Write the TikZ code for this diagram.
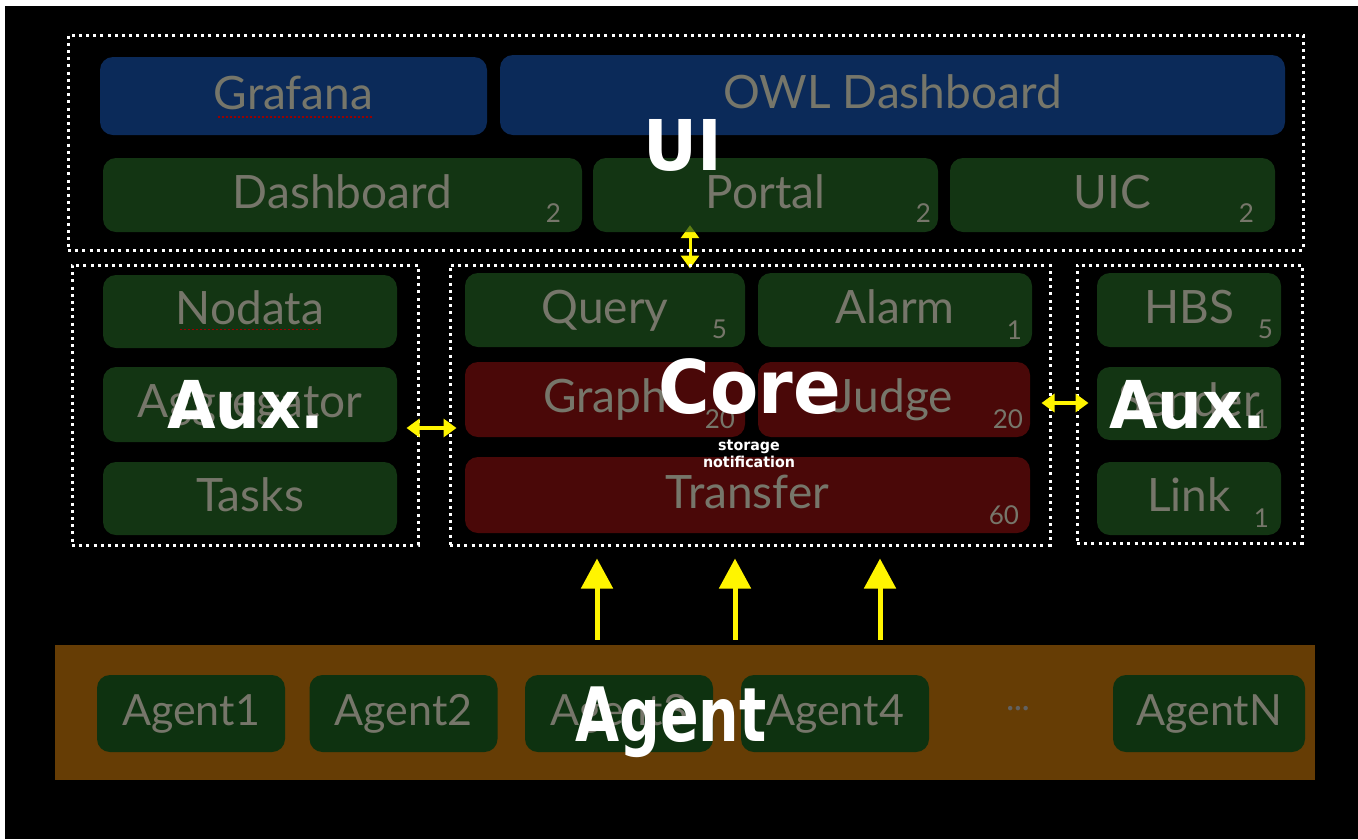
\documentclass[tikz,border=0pt]{standalone}
\usepackage{fontspec}
\setmainfont{Lato}
\newfontfamily\headfont{DejaVu Sans}[FakeStretch=0.95]
\newfontfamily\headcond{DejaVu Sans}[FakeStretch=0.76]
\usetikzlibrary{positioning}
\usetikzlibrary{calc}
\usetikzlibrary{arrows.meta}

\definecolor{boxgreen}{RGB}{28,76,28}
\definecolor{boxblue}{RGB}{17,60,128}
\definecolor{boxred}{RGB}{106,12,12}
\definecolor{agentgreen}{RGB}{14,50,16}
\definecolor{agentband}{RGB}{102,61,5}
\definecolor{lblgray}{RGB}{118,118,106}
\definecolor{flowyellow}{RGB}{255,245,0}

\pgfdeclarelayer{back}
\pgfdeclarelayer{under}
\pgfsetlayers{back,under,main}

\tikzset{
  box/.style={rounded corners=13pt, inner sep=0pt, fill opacity=0.7, text opacity=1,
    text=lblgray, text height=33pt, text depth=7pt, font=\fontsize{46}{46}\selectfont},
  greenbox/.style={box, fill=boxgreen},
  bluebox/.style={box, fill=boxblue},
  redbox/.style={box, fill=boxred},
  agentbox/.style={box, fill=agentgreen, fill opacity=1, minimum width=188pt, minimum height=77pt,
    text height=31pt, font=\fontsize{43}{43}\selectfont},
  countlbl/.style={text=lblgray, inner sep=0pt, font=\fontsize{26}{26}\selectfont},
  dotframe/.style={draw=white, line width=3pt, dash pattern=on 3pt off 4.2pt, inner sep=0pt},
  biglbl/.style={text=white, inner sep=0pt, font=\headfont\bfseries\fontsize{70}{70}\selectfont},
  flow/.style={draw=flowyellow, line width=5pt, -{Triangle[width=31pt,length=30pt]}},
  biarrow/.style={draw=flowyellow, line width=4pt,
    {Triangle[width=18pt,length=13pt]}-{Triangle[width=18pt,length=13pt]}},
}

\begin{document}
\begin{tikzpicture}[x=1pt, y=-1pt]

\useasboundingbox (0,0) rectangle (1358,839);
\begin{pgfonlayer}{back}
  \fill[white] (0,0) rectangle (1358,839);
  \fill[black] (5,6) rectangle (1358,839);
\end{pgfonlayer}

%---------------------------------------
% UI layer
%---------------------------------------
\node[dotframe, minimum width=1235pt, minimum height=215pt] (ui) at (685.5,142.5) {};

\node[bluebox, minimum width=387pt, minimum height=78pt] (grafana) at (293.5,96) {Grafana};
\node[bluebox, minimum width=785pt, minimum height=80pt] (owl) at (892.5,95) {OWL Dashboard};

\node[greenbox, minimum width=479pt, minimum height=74pt] (dashb) at (342.5,195) {Dashboard};
\node[greenbox, minimum width=345pt, minimum height=74pt] (portal) at (765.5,195) {Portal};
\node[greenbox, minimum width=325pt, minimum height=74pt] (uic) at (1112.5,195) {UIC};

\node[countlbl, anchor=south east] (dashbn) at ([xshift=-21pt,yshift=10pt]dashb.south east) {2};
\node[countlbl, anchor=south east] (portaln) at ([xshift=-7pt,yshift=10pt]portal.south east) {2};
\node[countlbl, anchor=south east] (uicn) at ([xshift=-21pt,yshift=10pt]uic.south east) {2};

% spell-check marks
\draw[red!60!black, line width=1.5pt, dash pattern=on 2pt off 2pt]
  ($(grafana.center)+(-76,21)$) -- ($(grafana.center)+(78,21)$);

%---------------------------------------
% Left aux block
%---------------------------------------
\node[dotframe, minimum width=346pt, minimum height=280pt] (auxl) at (245,405) {};

\node[greenbox, minimum width=294pt, minimum height=73pt] (nodata) at (250,311.5) {Nodata};
\node[greenbox, minimum width=294pt, minimum height=75pt] (aggr) at (250,404.5) {Aggregator};
\node[greenbox, minimum width=294pt, minimum height=73pt] (tasks) at (250,498.5) {Tasks};

\draw[red!60!black, line width=1.5pt, dash pattern=on 2pt off 2pt]
  ($(nodata.center)+(-70,18)$) -- ($(nodata.center)+(70,18)$);

%---------------------------------------
% Core block
%---------------------------------------
\node[dotframe, minimum width=600pt, minimum height=280pt] (core) at (750,405) {};

\node[greenbox, minimum width=280pt, minimum height=74pt] (query) at (605,310) {Query};
\node[greenbox, minimum width=274pt, minimum height=74pt] (alarm) at (895,310) {Alarm};
\node[redbox, minimum width=280pt, minimum height=75pt] (graph) at (605,399.5) {Graph};
\node[redbox, minimum width=272pt, minimum height=75pt] (judge) at (894,399.5) {Judge};
\node[redbox, minimum width=565pt, minimum height=76pt] (transfer) at (747.5,495) {Transfer};

\node[countlbl, anchor=south east] (queryn) at ([xshift=-18pt,yshift=8pt]query.south east) {5};
\node[countlbl, anchor=south east] (alarmn) at ([xshift=-10pt,yshift=8pt]alarm.south east) {1};
\node[countlbl, anchor=south east] (graphn) at ([xshift=-10pt,yshift=8pt]graph.south east) {20};
\node[countlbl, anchor=south east] (judgen) at ([xshift=-7pt,yshift=8pt]judge.south east) {20};
\node[countlbl, anchor=south east] (transfern) at ([xshift=-11pt,yshift=8pt]transfer.south east) {60};

%---------------------------------------
% Right aux block
%---------------------------------------
\node[dotframe, minimum width=225pt, minimum height=278pt] (auxr) at (1189.5,404) {};

\node[greenbox, minimum width=184pt, minimum height=74pt] (hbs) at (1189,310) {HBS};
\node[greenbox, minimum width=184pt, minimum height=73pt] (sender) at (1189,403.5) {Sender};
\node[greenbox, minimum width=184pt, minimum height=73pt] (link) at (1189,498.5) {Link};

\node[countlbl, anchor=south east] (hbsn) at ([xshift=-8pt,yshift=8pt]hbs.south east) {5};
\node[countlbl, anchor=south east] (sendern) at ([xshift=-12pt,yshift=12pt]sender.south east) {1};
\node[countlbl, anchor=south east] (linkn) at ([xshift=-12pt,yshift=8pt]link.south east) {1};

%---------------------------------------
% Agents
%---------------------------------------
\node[fill=agentband, minimum width=1260pt, minimum height=135pt, inner sep=0pt] (band) at (685,712.5) {};

\foreach \i/\ax in {1/191, 2/403.5, 3/619, 4/835}
  \node[agentbox] (agent\i) at (\ax,713.5) {Agent\i};
\node[agentbox, minimum width=192pt] (agentN) at (1209,713.5) {AgentN};
\node[text=black!62, font=\fontsize{30}{30}\selectfont] (more) at (1018,712) {···};

%---------------------------------------
% Data flow
%---------------------------------------
\coordinate (upx) at (690,0);
\begin{pgfonlayer}{under}
  \draw[biarrow, line width=3pt, shorten <=-7pt, shorten >=-5pt]
    (portal.south -| upx) -- (core.north -| upx);
\end{pgfonlayer}

\coordinate (lefty) at (0,428);
\coordinate (righty) at (0,403);
\draw[biarrow, shorten <=-13pt, shorten >=-8pt] (auxl.east |- lefty) -- (core.west |- lefty);
\draw[biarrow, shorten <=-10pt, shorten >=-13pt] (core.east |- righty) -- (auxr.west |- righty);

\foreach \ax in {597, 735, 880} {
  \coordinate (f) at (\ax,0);
  \draw[flow, shorten <=5pt, shorten >=12pt] (band.north -| f) -- (core.south -| f);
}

%---------------------------------------
% Layer titles
%---------------------------------------
\node[biglbl] (uititle) at (683,145) {UI};
\node[biglbl, font=\headfont\bfseries\fontsize{74}{74}\selectfont] (coretitle) at (750,387) {Core};
\node[biglbl, font=\headfont\bfseries\fontsize{66}{66}\selectfont] (auxltitle) at (246,405) {Aux.};
\node[biglbl, font=\headfont\bfseries\fontsize{66}{66}\selectfont] (auxrtitle) at (1188,405) {Aux.};
\node[biglbl, font=\headcond\bfseries\fontsize{75}{75}\selectfont] (agenttitle) at (671,722) {Agent};
\node[text=white, font=\headfont\bfseries\fontsize{15}{17}\selectfont, align=center] (coresub) at (749,454)
  {storage\\notification};

\end{tikzpicture}
\end{document}
